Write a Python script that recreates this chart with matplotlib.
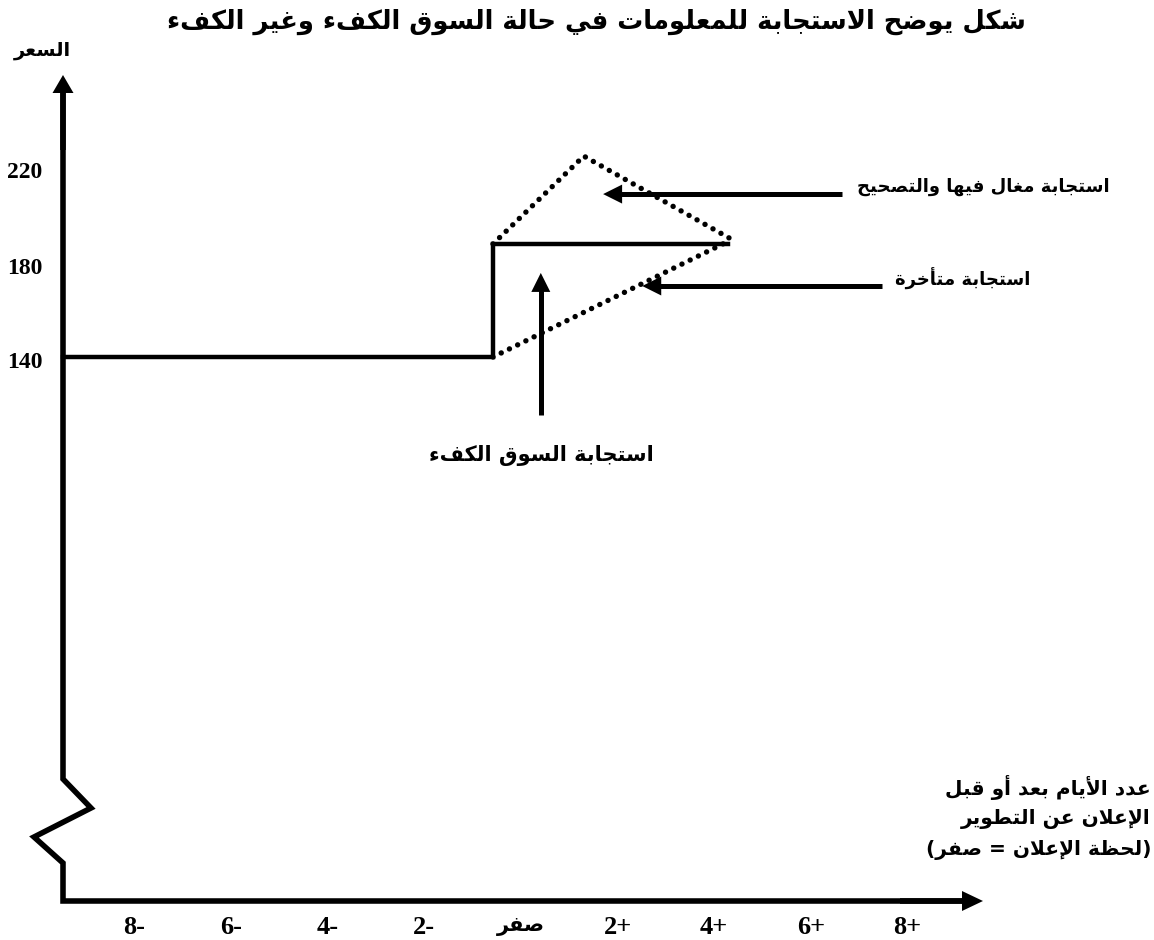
import matplotlib
matplotlib.use("Agg")
import matplotlib.pyplot as plt
import numpy as np
from matplotlib.transforms import offset_copy, blended_transform_factory

# ---------------- Arabic shaping (no external libs) ----------------
_LET = "ءآأؤإئابةتثجحخدذرزسشصضطظعغفقكلمنهوىي"
_NF = [1, 2, 2, 2, 2, 4, 2, 4, 2, 4, 4, 4, 4, 4, 2, 2, 2, 2,
       4, 4, 4, 4, 4, 4, 4, 4, 4, 4, 4, 4, 4, 4, 4, 2, 2, 4]
FORMS = {}
_c = 0xFE80
for ch, k in zip(_LET, _NF):
    FORMS[ch] = (_c, k)
    _c += k
LAMALEF = {"آ": 0xFEF5, "أ": 0xFEF7, "إ": 0xFEF9, "ا": 0xFEFB}
MIRROR = {"(": ")", ")": "("}


def _jn_after(c):
    return c in FORMS and FORMS[c][1] == 4


def _jn_before(c):
    return c in FORMS and FORMS[c][1] >= 2


def ar(text):
    chars = list(text)
    n = len(chars)
    res = []
    i = 0
    while i < n:
        c = chars[i]
        prev = chars[i - 1] if i > 0 else None
        jp = prev is not None and _jn_after(prev) and _jn_before(c)
        if c == "ل" and i + 1 < n and chars[i + 1] in LAMALEF:
            res.append(chr(LAMALEF[chars[i + 1]] + (1 if jp else 0)))
            i += 2
            continue
        if c in FORMS:
            start, k = FORMS[c]
            nxt = chars[i + 1] if i + 1 < n else None
            jn = nxt is not None and _jn_after(c) and _jn_before(nxt)
            if k == 1:
                f = 0
            elif k == 2:
                f = 1 if jp else 0
            else:
                f = (3 if jn else 1) if jp else (2 if jn else 0)
            res.append(chr(start + f))
        else:
            res.append(c)
        i += 1
    return "".join(MIRROR.get(c, c) for c in reversed(res))


# ---------------- data ----------------
title = "شكل يوضح الاستجابة للمعلومات في حالة السوق الكفء وغير الكفء"
y_title = "السعر"
x_title_lines = ["عدد الأيام بعد أو قبل", "الإعلان عن التطوير", "(لحظة الإعلان = صفر)"]

x_tick_days = [-8, -6, -4, -2, 0, 2, 4, 6, 8]
x_tick_labels = ["8-", "6-", "4-", "2-", "صفر", "2+", "4+", "6+", "8+"]
y_tick_values = [140, 180, 220]
y_tick_labels = ["140", "180", "220"]

# efficient market response (solid step)
eff_days = [-9.48, -0.58, -0.58, 4.28]
eff_price = [140, 140, 187.6, 187.6]
# over-reaction and correction (dotted)
over_days = [-0.58, 1.30, 4.32]
over_price = [187.6, 224.6, 190.0]
# delayed response (dotted)
delay_days = [-0.58, 4.32]
delay_price = [140, 189.0]

# annotation arrows: (tail_day, tail_price, tip_day, tip_price)
arrow_over = (6.65, 208.6, 1.70, 208.6)
arrow_delay = (7.47, 169.9, 2.51, 169.9)
arrow_eff = (0.41, 115.6, 0.41, 175.4)

label_over = "استجابة مغال فيها والتصحيح"
label_delay = "استجابة متأخرة"
label_eff = "استجابة السوق الكفء"

# ---------------- figure ----------------
W, H = 1154, 940
fig = plt.figure(figsize=(W / 100, H / 100), dpi=100)
ax = fig.add_axes([0, 0, 1, 1])
ax.axis("off")

X0, SX = 521.0, 48.3      # pixel x of day 0, pixels per day
Y0, SY = 357.0, 2.375     # pixel y (from top) of price 140, pixels per price unit
ax.set_xlim(-X0 / SX, (W - X0) / SX)
ax.set_ylim(140 - (H - Y0) / SY, 140 + Y0 / SY)

AR = "DejaVu Sans"
SERIF = "Liberation Serif"
K = "black"


def px2data(x, y):
    return ax.transData.inverted().transform((x, H - y))


def arrow_disp(p0, p1, lw, head_len, head_half):
    """p0 tail, p1 tip, both in display pixels (origin bottom-left)."""
    p0 = np.array(p0, float)
    p1 = np.array(p1, float)
    d = p1 - p0
    L = np.hypot(*d)
    u = d / L
    nrm = np.array([-u[1], u[0]])
    base = p1 - u * head_len
    inv = ax.transData.inverted()
    a, b = inv.transform(p0), inv.transform(base + u * 2)
    ax.plot([a[0], b[0]], [a[1], b[1]], color=K, lw=lw, solid_capstyle="butt")
    tri = inv.transform([p1, base + nrm * head_half, base - nrm * head_half])
    ax.fill(tri[:, 0], tri[:, 1], color=K, lw=0)


def arrow_data(spec, lw=3.6, head_len=19, head_half=9.5):
    t = ax.transData.transform((spec[0], spec[1]))
    h = ax.transData.transform((spec[2], spec[3]))
    arrow_disp(t, h, lw, head_len, head_half)


def pxd(x, y):
    return (x, H - y)


# --- axes decorations (pixel-based) ---
axis_lw = 4.0
zz = [pxd(63, 92), pxd(63, 779), pxd(91, 808), pxd(34, 837), pxd(63, 863), pxd(63, 901), pxd(963, 901)]
inv = ax.transData.inverted()
zzd = inv.transform(zz)
ax.plot(zzd[:, 0], zzd[:, 1], color=K, lw=axis_lw, solid_joinstyle="miter", solid_capstyle="butt")
arrow_disp(pxd(63, 150), pxd(63, 75), axis_lw, 18, 10.5)
arrow_disp(pxd(900, 901), pxd(983, 901), axis_lw, 21, 10)

# --- data lines ---
ax.plot(eff_days, eff_price, color=K, lw=3.2, solid_joinstyle="miter")
dot_style = dict(color=K, lw=3.9, linestyle=(0, (0.01, 1.68)), dash_capstyle="round")
ax.plot(over_days, over_price, **dot_style)
ax.plot(delay_days, delay_price, **dot_style)

# --- annotation arrows ---
arrow_data(arrow_over)
arrow_data(arrow_delay)
arrow_data(arrow_eff)

# --- annotation labels ---
ax.text(12.19, 211.6, ar(label_over), family=AR, weight="bold", fontsize=13,
        ha="right", va="center")
ax.text(10.54, 172.8, ar(label_delay), family=AR, weight="bold", fontsize=13,
        ha="right", va="center")
ax.text(0.43, 98.7, ar(label_eff), family=AR, weight="bold", fontsize=15,
        ha="center", va="center")

# --- ticks ---
tb = blended_transform_factory(ax.transData, fig.transFigure)
for d, lab in zip(x_tick_days, x_tick_labels):
    if lab == "صفر":
        ax.text(d, 1 - 926 / H, ar(lab), family=AR, weight="bold", fontsize=15,
                ha="center", va="center", transform=tb)
    else:
        ax.text(d, 1 - 928 / H, lab, family=SERIF, weight="bold", fontsize=19,
                ha="center", va="center", transform=tb)

ty = offset_copy(ax.transData, fig=fig, x=0, y=-6, units="dots")
xlab = px2data(25, 0)[0]
for v, lab in zip(y_tick_values, y_tick_labels):
    ax.text(xlab, v, lab, family=SERIF, weight="bold", fontsize=17,
            ha="center", va="center", transform=ty)

# --- titles ---
fig.text(596 / W, 1 - 22 / H, ar(title), family=AR, weight="bold", fontsize=18.6,
         ha="center", va="center")
fig.text(42 / W, 1 - 50 / H, ar(y_title), family=AR, weight="bold", fontsize=14,
         ha="center", va="center")
for yy, line in zip([787, 819, 850], x_title_lines):
    fig.text(1151 / W, 1 - yy / H, ar(line), family=AR, weight="bold", fontsize=14.5,
             ha="right", va="center")

fig.savefig("out.png", dpi=100, facecolor="white")
